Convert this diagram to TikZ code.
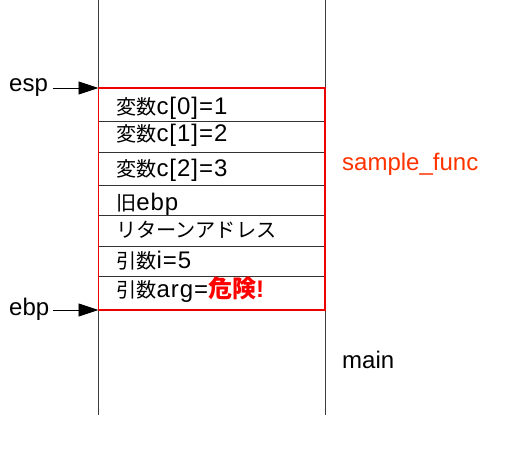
\documentclass[tikz,border=0pt]{standalone}
\usepackage{fontspec}
\setmainfont{Liberation Sans}
\newfontfamily\cellfont{Liberation Sans}[LetterSpace=4]
\newfontfamily\jp{Noto Sans CJK JP}[Scale=0.84]
\newfontfamily\jpbold{Noto Sans CJK JP}[Scale=1.0]
\usetikzlibrary{arrows.meta}
\definecolor{boxred}{RGB}{238,0,0}
\definecolor{funcred}{RGB}{255,51,0}
\definecolor{linegray}{RGB}{60,60,60}
\tikzset{
  lbl/.style={anchor=base west, inner sep=0pt, font=\fontsize{24}{28}\selectfont},
  cell/.style={lbl, font=\fontsize{24}{28}\selectfont\cellfont},
  ptr/.style={-{Triangle[length=20pt,width=13pt]}, line width=0.8pt},
  sep/.style={line width=0.8pt, black!80},
  stackline/.style={line width=0.8pt, linegray},
  framebox/.style={draw=boxred, line width=1.6pt},
}
\begin{document}
\begin{tikzpicture}[x=1pt,y=-1pt]
\useasboundingbox (0,0) rectangle (510,454);
% stack walls
\coordinate (lt) at (98.5,0);
\coordinate (lb) at (98.5,415);
\coordinate (rt) at (325,0);
\coordinate (rb) at (325,415);
\draw[stackline] (lt) -- (lb);
\draw[stackline] (rt) -- (rb);
% separators
\foreach \y in {121.5,152,185.7,215.7,246.5,276.4}{
  \draw[sep] (98.5,\y) -- (325,\y);
}
% frame
\coordinate (ftl) at (98.5,88);
\coordinate (fbr) at (325,310);
\draw[framebox] (ftl) rectangle (fbr);
% cell texts
\node[cell] (c0) at (116,114.5) {{\jp 変数}c[0]=1};
\node[cell] (c1) at (116,141.7) {{\jp 変数}c[1]=2};
\node[cell] (c2) at (116,176.7) {{\jp 変数}c[2]=3};
\node[cell] (oe) at (116,210.7) {{\jp 旧}ebp};
\node[cell] (ra) at (116,237) {{\jp リターンアドレス}};
\node[cell] (ai) at (116,268.7) {{\jp 引数}i=5};
\node[cell] (aa) at (116,297.5) {{\jp 引数}arg={\color{red}\jpbold\bfseries 危険}{\color{red}\bfseries !}};
% labels
\node[lbl] (esp) at (9,92) {esp};
\node[lbl] (ebp) at (9,315) {ebp};
\node[lbl, text=funcred] (sf) at (342,171) {sample\_func};
\node[lbl] (mn) at (342,368) {main};
% pointers
\coordinate (espT) at (98.5,88);
\coordinate (ebpT) at (98.5,310);
\draw[ptr] (esp.east |- espT) ++(5,0) -- (espT);
\draw[ptr] (ebp.east |- ebpT) ++(4,0) -- (ebpT);
\end{tikzpicture}
\end{document}
